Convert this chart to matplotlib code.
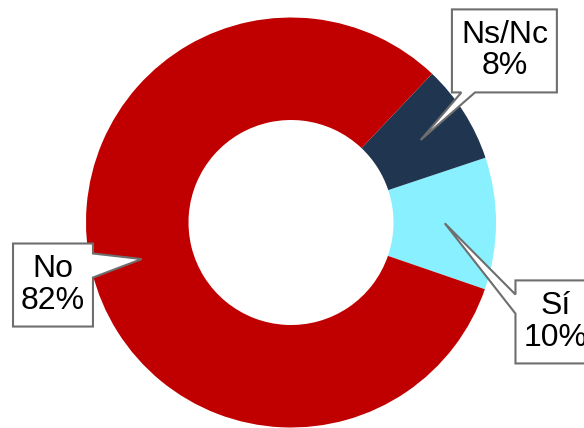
import numpy as np
import matplotlib.pyplot as plt
from matplotlib.patches import Polygon

labels = ['Sí', 'Ns/Nc', 'No']
values = [10.4, 7.8, 81.8]
colors = ['#88F0FF', '#1F3550', '#C00000']

# label box centres (data units, radius = 1) and which side the pointer leaves from
box_pos = [(1.29, -0.485), (1.041, 0.837), (-1.161, -0.305)]
box_size = [(0.39, 0.405), (0.512, 0.405), (0.39, 0.405)]
box_side = ['left', 'bottom', 'right']

W, H = 584, 428
cx, cy, R = 291, 222.5, 205.0

fig = plt.figure(figsize=(W / 100, H / 100), dpi=100)
ax = fig.add_axes([0, 0, 1, 1])
plt.rcParams['font.family'] = ['Liberation Sans', 'DejaVu Sans']

wedges, _ = ax.pie(values, radius=1, startangle=-19, counterclock=True,
                   colors=colors, wedgeprops=dict(width=0.5, linewidth=0))
ax.set_aspect('auto')
ax.set_xlim(-cx / R, (W - cx) / R)
ax.set_ylim((cy - H) / R, cy / R)
ax.axis('off')

total = sum(values)
for w, lab, v, (bx, by), (bw, bh), side in zip(wedges, labels, values, box_pos, box_size, box_side):
    mid = np.deg2rad((w.theta1 + w.theta2) / 2)
    tip = (0.75 * np.cos(mid), 0.75 * np.sin(mid))
    x0, x1 = bx - bw / 2, bx + bw / 2
    y0, y1 = by - bh / 2, by + bh / 2
    if side == 'bottom':
        pts = [(x0, y1), (x1, y1), (x1, y0), (x0 + 0.22 * bw, y0), tip, (x0 + 0.09 * bw, y0), (x0, y0)]
    elif side == 'left':
        pts = [(x0, y1), (x1, y1), (x1, y0), (x0, y0), (x0, y1 - 0.4 * bh), tip, (x0, y1 - 0.17 * bh)]
    else:
        pts = [(x0, y1), (x1, y1), (x1, y1 - 0.12 * bh), tip, (x1, y1 - 0.41 * bh), (x1, y0), (x0, y0)]
    ax.add_patch(Polygon(pts, closed=True, facecolor='white', edgecolor='#6E6E6E',
                         linewidth=1.5, zorder=3, clip_on=False))
    ax.text(bx, by, f'{lab}\n{v / total * 100:.0f}%', ha='center', va='center',
            fontsize=23, linespacing=1.05, color='black', zorder=4)

fig.savefig('out.png', dpi=100)
